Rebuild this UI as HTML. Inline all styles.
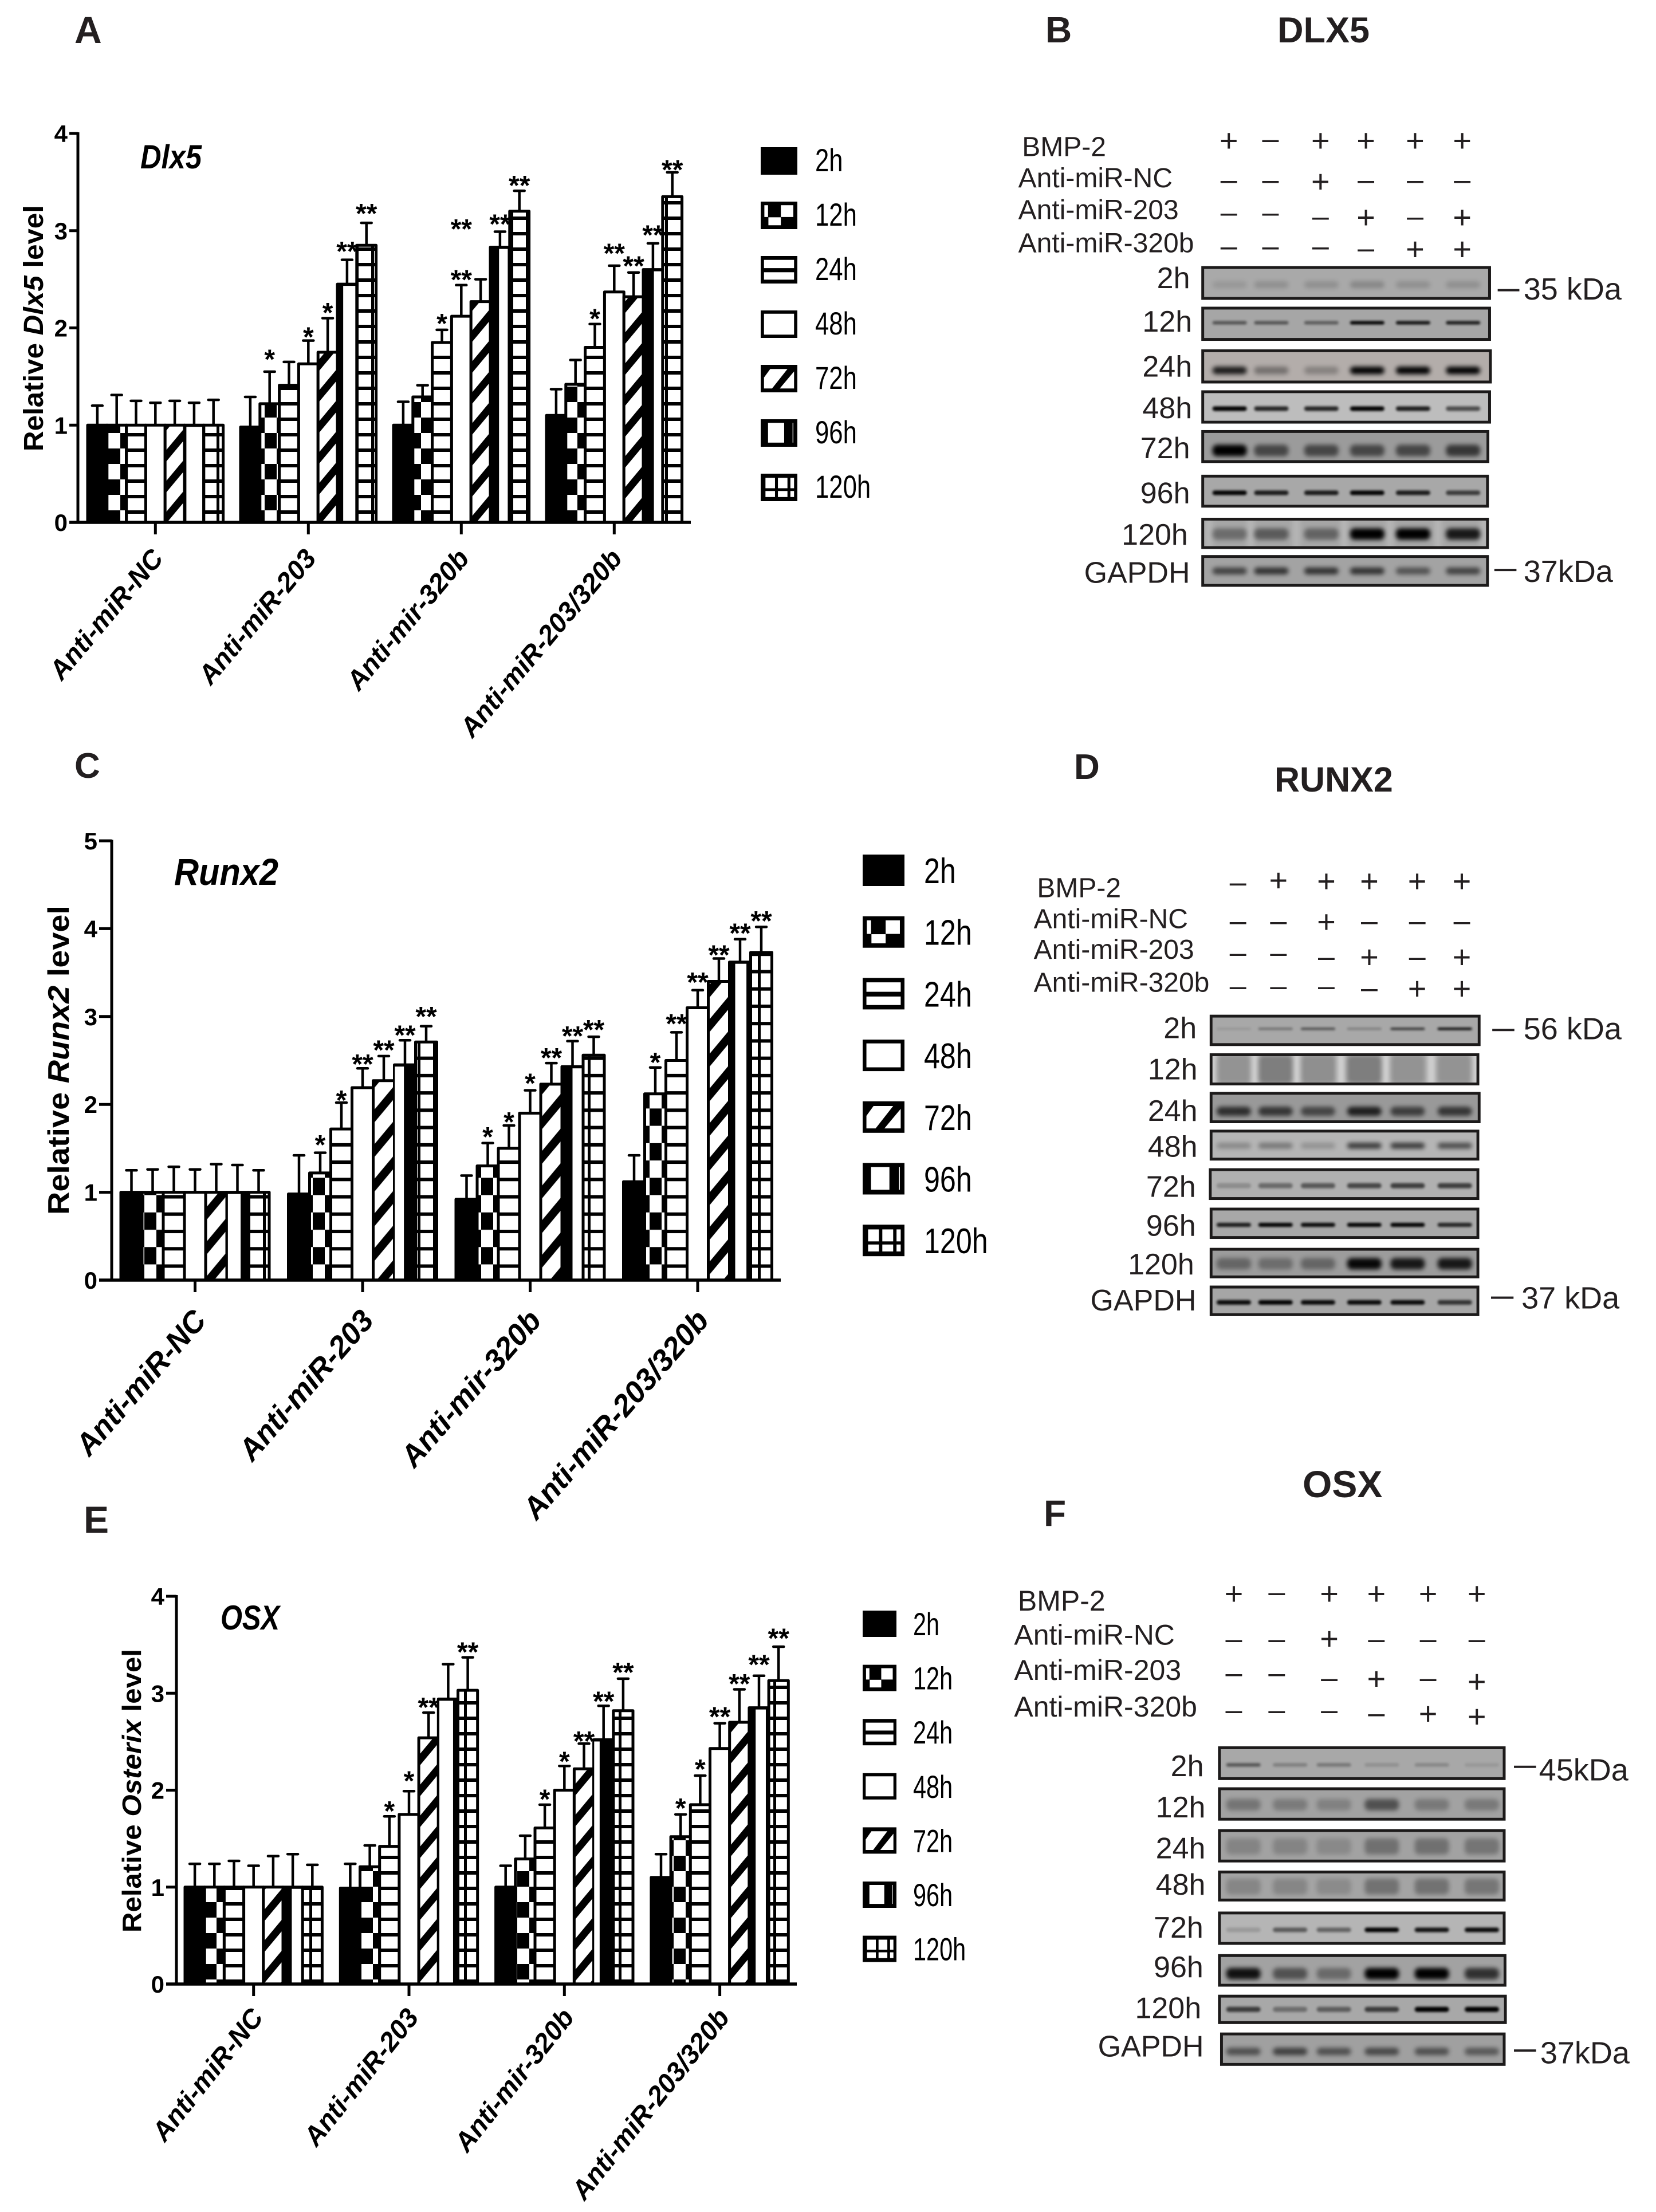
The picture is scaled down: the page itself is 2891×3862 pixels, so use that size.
<!DOCTYPE html>
<html lang="en">
<head>
<meta charset="utf-8">
<title>DLX5, RUNX2 and OSX expression</title>
<style>
html,body{margin:0;padding:0;background:#fff;}
svg{display:block;}
text{font-family:"Liberation Sans",Arial,sans-serif;}
.panel-letter{font-weight:bold;fill:#231f20;}
.blot-title{font-weight:bold;fill:#231f20;}
.plot-title{font-weight:bold;font-style:italic;fill:#000;}
</style>
</head>
<body>
<svg id="figure" xmlns="http://www.w3.org/2000/svg" width="2891" height="3862" viewBox="0 0 2891 3862">
<rect width="2891" height="3862" fill="#fff"/>
<defs id="defs">
<filter id="blur" x="-30%" y="-300%" width="160%" height="700%"><feGaussianBlur stdDeviation="4"/></filter>
<filter id="sharpblur" x="-30%" y="-300%" width="160%" height="700%"><feGaussianBlur stdDeviation="2"/></filter>
<filter id="softblur" x="-100%" y="-30%" width="300%" height="160%"><feGaussianBlur stdDeviation="5"/></filter>
</defs>
<text class="panel-letter" x="130" y="75" font-size="66">A</text>
<text class="panel-letter" x="1825" y="74" font-size="64">B</text>
<text class="panel-letter" x="130" y="1358" font-size="62">C</text>
<text class="panel-letter" x="1875" y="1360" font-size="62">D</text>
<text class="panel-letter" x="146" y="2676" font-size="66">E</text>
<text class="panel-letter" x="1822" y="2664" font-size="64">F</text>
<text class="blot-title" x="2230" y="74" font-size="63">DLX5</text>
<text class="blot-title" x="2225" y="1382" font-size="61">RUNX2</text>
<text class="blot-title" x="2274" y="2614" font-size="66">OSX</text>
<text class="plot-title" x="245" y="294" font-size="58" textLength="107" lengthAdjust="spacingAndGlyphs">Dlx5</text>
<text class="plot-title" x="304" y="1545" font-size="66" textLength="182" lengthAdjust="spacingAndGlyphs">Runx2</text>
<text class="plot-title" x="385" y="2845" font-size="60" textLength="103" lengthAdjust="spacingAndGlyphs">OSX</text>
</svg>
<script>
// ---------- shared chart data ----------
const categories = ['Anti-miR-NC', 'Anti-miR-203', 'Anti-mir-320b', 'Anti-miR-203/320b'];
const timeLabels = ['2h', '12h', '24h', '48h', '72h', '96h', '120h'];

// ---------- Dlx5 ----------
const dlx5Ticks = [0, 1, 2, 3, 4];
const dlx5Means = [
  [1, 1, 1, 1, 1, 1, 1],
  [0.98, 1.22, 1.41, 1.63, 1.75, 2.45, 2.85],
  [1, 1.29, 1.85, 2.12, 2.27, 2.83, 3.2],
  [1.1, 1.42, 1.8, 2.37, 2.32, 2.6, 3.35]
];
const dlx5ErrTops = [
  [1.2, 1.31, 1.25, 1.23, 1.25, 1.23, 1.26],
  [1.29, 1.55, 1.65, 1.87, 2.1, 2.7, 3.08],
  [1.24, 1.41, 1.98, 2.44, 2.5, 2.99, 3.41],
  [1.37, 1.67, 2.04, 2.64, 2.57, 2.87, 3.6]
];
const dlx5Stars = [
  [1, 1, '*', 1.74], [1, 3, '*', 1.97], [1, 4, '*', 2.22], [1, 5, '**', 2.85], [1, 6, '**', 3.24],
  [2, 2, '*', 2.11], [2, 3, '**', 2.56], [2, 3, '**', 3.08], [2, 5, '**', 3.13], [2, 6, '**', 3.53],
  [3, 2, '*', 2.16], [3, 3, '**', 2.83], [3, 4, '**', 2.7], [3, 5, '**', 3.02], [3, 6, '**', 3.69]
];

// ---------- Runx2 ----------
const runx2Ticks = [0, 1, 2, 3, 4, 5];
const runx2Means = [
  [1, 1, 1, 1, 1, 1, 1],
  [0.98, 1.22, 1.72, 2.19, 2.27, 2.45, 2.71],
  [0.92, 1.3, 1.5, 1.9, 2.23, 2.43, 2.56],
  [1.12, 2.12, 2.5, 3.1, 3.4, 3.62, 3.73]
];
const runx2ErrTops = [
  [1.25, 1.26, 1.29, 1.26, 1.32, 1.31, 1.25],
  [1.42, 1.45, 2.02, 2.41, 2.55, 2.73, 2.89],
  [1.19, 1.56, 1.76, 2.16, 2.47, 2.72, 2.77],
  [1.42, 2.42, 2.82, 3.3, 3.66, 3.88, 4.02]
];
const runx2Stars = [
  [1, 1, '*', 1.61], [1, 2, '*', 2.12], [1, 3, '**', 2.53], [1, 4, '**', 2.69], [1, 5, '**', 2.86], [1, 6, '**', 3.07],
  [2, 1, '*', 1.7], [2, 2, '*', 1.87], [2, 3, '*', 2.31], [2, 4, '**', 2.6], [2, 5, '**', 2.85], [2, 6, '**', 2.92],
  [3, 1, '*', 2.55], [3, 2, '**', 2.99], [3, 3, '**', 3.46], [3, 4, '**', 3.77], [3, 5, '**', 4.02], [3, 6, '**', 4.16]
];

// ---------- Osterix ----------
const osxTicks = [0, 1, 2, 3, 4];
const osxMeans = [
  [1, 1, 1, 1, 1, 1, 1],
  [0.99, 1.21, 1.42, 1.75, 2.54, 2.94, 3.03],
  [1, 1.29, 1.61, 2, 2.22, 2.52, 2.82],
  [1.1, 1.52, 1.85, 2.43, 2.7, 2.85, 3.13]
];
const osxErrTops = [
  [1.24, 1.24, 1.27, 1.22, 1.32, 1.34, 1.23],
  [1.24, 1.43, 1.73, 1.99, 2.8, 3.3, 3.37],
  [1.22, 1.53, 1.85, 2.25, 2.48, 2.87, 3.15],
  [1.34, 1.75, 2.15, 2.69, 3.04, 3.18, 3.48]
];
const osxStars = [
  [1, 2, '*', 1.85], [1, 3, '*', 2.16], [1, 4, '**', 2.92], [1, 6, '**', 3.49],
  [2, 2, '*', 1.97], [2, 3, '*', 2.36], [2, 4, '**', 2.57], [2, 5, '**', 2.98], [2, 6, '**', 3.28],
  [3, 1, '*', 1.88], [3, 2, '*', 2.28], [3, 3, '**', 2.82], [3, 4, '**', 3.16], [3, 5, '**', 3.36], [3, 6, '**', 3.63]
];

// ---------- western blot band intensities (lanes left to right) ----------
const rowNames = ['2h', '12h', '24h', '48h', '72h', '96h', '120h', 'GAPDH'];
const dlx5Bands = [
  [.1, .15, .15, .2, .15, .15], [.5, .5, .45, 1, .9, .85], [.85, .35, .25, 1, 1, 1], [1, .8, .8, 1, .85, .6],
  [1, .55, .55, .55, .55, .65], [1, .85, .85, 1, .85, .65], [.35, .45, .4, 1, 1, .85], [.6, .7, .7, .7, .5, .6]
];
const runx2Bands = [
  [.1, .35, .55, .25, .7, 1], [.12, .25, .15, .25, .12, .12], [.7, .65, .55, .8, .6, .65], [.25, .35, .2, .7, .7, .6],
  [.2, .4, .5, .6, .65, .65], [.85, 1, .95, 1, 1, .8], [.35, .3, .35, .95, .85, .85], [.95, 1, .95, .95, .95, .7]
];
const osxBands = [
  [.5, .25, .3, .15, .2, .1], [.28, .24, .2, .5, .25, .25], [.18, .18, .15, .3, .3, .28], [.18, .18, .15, .3, .3, .28],
  [.15, .5, .45, 1, .9, .95], [.9, .5, .35, 1, 1, .7], [.65, .35, .45, .65, 1, 1], [.5, .6, .5, .55, .5, .45]
];
const treatmentNames = ['BMP-2', 'Anti-miR-NC', 'Anti-miR-203', 'Anti-miR-320b'];
const dlx5Signs = ['+-++++', '--+---', '---+-+', '----++'];
const runx2Signs = ['-+++++', '--+---', '---+-+', '----++'];
const osxSigns = ['+-++++', '--+---', '---+-+', '----++'];

// ---------- helpers ----------
const NS = 'http://www.w3.org/2000/svg';
const root = document.getElementById('figure');
const defs = document.getElementById('defs');
function mk(tag, attrs, parent, txt) {
  const n = document.createElementNS(NS, tag);
  for (const k in attrs) n.setAttribute(k, attrs[k]);
  if (txt !== undefined) n.textContent = txt;
  (parent || root).appendChild(n);
  return n;
}

function definePatterns(pre, s) {
  const c = 21, r = 27 * s, l = 6;
  const p12 = mk('pattern', {id: pre + 'p12', patternUnits: 'userSpaceOnUse', width: 2 * c, height: 2 * r}, defs);
  mk('rect', {width: 2 * c, height: 2 * r, fill: '#fff'}, p12);
  mk('rect', {width: c, height: r, fill: '#000'}, p12);
  mk('rect', {x: c, y: r, width: c, height: r, fill: '#000'}, p12);
  const p24 = mk('pattern', {id: pre + 'p24', patternUnits: 'userSpaceOnUse', width: 10, height: r}, defs);
  mk('rect', {width: 10, height: r, fill: '#fff'}, p24);
  mk('rect', {width: 10, height: l, fill: '#000'}, p24);
  const w = 45 * s, h = 54 * s, t = 20 * s;
  const p72 = mk('pattern', {id: pre + 'p72', patternUnits: 'userSpaceOnUse', width: w, height: h}, defs);
  mk('rect', {width: w, height: h, fill: '#fff'}, p72);
  mk('polygon', {points: `0,${h} ${w},0 ${w},${t} 0,${h + t}`, fill: '#000'}, p72);
  mk('polygon', {points: `0,0 ${w},${-h} ${w},${t - h} 0,${t}`, fill: '#000'}, p72);
  const p120 = mk('pattern', {id: pre + 'p120', patternUnits: 'userSpaceOnUse', width: 27, height: r}, defs);
  mk('rect', {width: 27, height: r, fill: '#fff'}, p120);
  mk('rect', {width: 27, height: l, fill: '#000'}, p120);
  mk('rect', {width: 5, height: r, fill: '#000'}, p120);
}

const swatchCells = [
  [],
  [[.1, .13, .1, .43], [.21, .57, .34, .29], [.55, .13, .34, .43]],
  [[.09, .14, .82, .3], [.09, .59, .82, .27]],
  [[.09, .12, .82, .76]],
  [],
  [[.2, .13, .44, .72], [.87, .13, .02, .72]],
  [[.13, .15, .26, .38], [.47, .15, .26, .38], [.81, .15, .1, .38], [.13, .63, .26, .22], [.47, .63, .26, .22], [.81, .63, .1, .22]]
];

function drawChart(cfg, means, errTops, stars, ticks) {
  const pre = cfg.key + '-';
  definePatterns(pre, cfg.s);
  const g = mk('g', {});
  
  
  const maxTick = Math.max(...ticks);
  const yScale = v => cfg.y0 - v * (cfg.y0 - cfg.yTop) / maxTick;
  const xScale = (gi, bi) => cfg.x0 + gi * cfg.spacing + bi * cfg.barW;
  const fills = ['#000', `url(#${pre}p12)`, `url(#${pre}p24)`, '#fff', `url(#${pre}p72)`, '#000', `url(#${pre}p120)`];

  means.forEach((vals, gi) => {
    vals.forEach((v, bi) => {
      const x = xScale(gi, bi), cx = x + cfg.barW / 2, top = yScale(v);
      const stem = mk('line', {x1: cx, x2: cx, y1: top, y2: yScale(errTops[gi][bi]), stroke: '#000', 'stroke-width': 4.5}, g);
      
      
      const cap = mk('line', {x1: cx - 9, x2: cx + 9, y1: yScale(errTops[gi][bi]), y2: yScale(errTops[gi][bi]), stroke: '#000', 'stroke-width': 4.5, 'stroke-linecap': 'round'}, g);
      
      
    });
  });
  means.forEach((vals, gi) => {
    vals.forEach((v, bi) => {
      const x = xScale(gi, bi), top = yScale(v);
      const bar = mk('rect', {x: x, y: top, width: cfg.barW, height: cfg.y0 - top, fill: fills[bi], stroke: '#000', 'stroke-width': 5, 'stroke-linejoin': 'round'}, g);
      
      
      if (bi === 5) {
        const gap = cfg.gaps96[gi];
        const white = mk('rect', {x: x + gap[0] * cfg.barW, y: top + 3, width: (gap[1] - gap[0]) * cfg.barW, height: cfg.y0 - top - 3, fill: '#fff'}, g);
        
        
      }
    });
  });

  stars.forEach(st => {
    const t = mk('text', {x: xScale(st[0], st[1]) + cfg.barW / 2, y: yScale(st[3]) + 27, 'text-anchor': 'middle', 'font-size': 48, 'font-weight': 'bold', fill: '#000'}, g, st[2]);
    
    
  });

  const yAxis = mk('line', {x1: cfg.axisX, x2: cfg.axisX, y1: yScale(maxTick) - 2, y2: cfg.y0 + 2, stroke: '#000', 'stroke-width': 5}, g);
  
  
  const xAxis = mk('line', {x1: cfg.axisX - cfg.tickY, x2: cfg.axisEnd, y1: cfg.y0, y2: cfg.y0, stroke: '#000', 'stroke-width': 5.5}, g);
  
  

  ticks.forEach(tv => {
    const y = yScale(tv);
    const tk = mk('line', {x1: cfg.axisX - cfg.tickY, x2: cfg.axisX, y1: y, y2: y, stroke: '#000', 'stroke-width': 5}, g);
    
    
    const lab = mk('text', {x: cfg.axisX - cfg.tickY - 3, y: y + 15, 'text-anchor': 'end', 'font-size': 42, 'font-weight': 'bold', fill: '#000'}, g, String(tv));
    
    
  });

  categories.forEach((name, gi) => {
    const tx = xScale(gi, 3.5);
    const tk = mk('line', {x1: tx, x2: tx, y1: cfg.y0, y2: cfg.y0 + 21, stroke: '#000', 'stroke-width': 5}, g);
    
    
    const ax = tx + cfg.labDx, ay = cfg.y0 + cfg.labDy;
    const lab = mk('text', {x: ax, y: ay, 'text-anchor': 'end', 'font-size': cfg.labSize, 'font-weight': 'bold', 'font-style': 'italic', fill: '#000', transform: `rotate(${-cfg.labAngle} ${ax} ${ay})`}, g, name);
    
    
  });

  const yt = mk('text', {x: 0, y: 0, 'font-size': cfg.ytSize, 'font-weight': 'bold', fill: '#000', textLength: cfg.ytLen, lengthAdjust: 'spacingAndGlyphs', transform: `translate(${cfg.ytX} ${cfg.ytBottom}) rotate(-90)`}, g);
  
  
  mk('tspan', {}, yt, 'Relative ');
  mk('tspan', {'font-style': 'italic'}, yt, cfg.gene);
  mk('tspan', {}, yt, ' level');

  timeLabels.forEach((name, i) => {
    const y = cfg.legY + i * cfg.legStep;
    const entry = mk('g', {}, g);
    
    
    mk('rect', {x: cfg.legX, y: y, width: cfg.legW, height: cfg.legH, fill: '#000'}, entry);
    swatchCells[i].forEach(c => {
      mk('rect', {x: cfg.legX + c[0] * cfg.legW, y: y + c[1] * cfg.legH, width: c[2] * cfg.legW, height: c[3] * cfg.legH, fill: '#fff'}, entry);
    });
    if (i === 4) {
      const X = f => cfg.legX + f * cfg.legW, Y = f => y + f * cfg.legH;
      mk('polygon', {points: `${X(.09)},${Y(.46)} ${X(.26)},${Y(.15)} ${X(.73)},${Y(.15)} ${X(.31)},${Y(.86)} ${X(.09)},${Y(.86)}`, fill: '#fff'}, entry);
      mk('polygon', {points: `${X(.52)},${Y(.86)} ${X(.91)},${Y(.24)} ${X(.91)},${Y(.86)}`, fill: '#fff'}, entry);
    }
    const lx = cfg.legTextX, ly = y + cfg.legBase;
    const t = mk('text', {'font-size': cfg.legSize, fill: '#000', transform: `translate(${lx} ${ly}) scale(${cfg.legScale} 1)`}, entry, name);
    
    
  });
}

drawChart({key: 'dlx5', gene: 'Dlx5', s: 1, x0: 153, spacing: 267, barW: 33.8, y0: 912, yTop: 233, axisX: 136, axisEnd: 1206, tickY: 15,
  labDx: 16, labDy: 64, labSize: 47, labAngle: 50, ytSize: 48, ytLen: 430, ytX: 75, ytBottom: 788,
  legX: 1328, legY: 257, legStep: 95, legW: 64, legH: 48, legTextX: 1423, legBase: 42, legSize: 56, legScale: .78,
  gaps96: [[.1, .92], [.3, .95], [.45, .9], [.55, .98]]},
  dlx5Means, dlx5ErrTops, dlx5Stars, dlx5Ticks);

drawChart({key: 'runx2', gene: 'Runx2', s: 1.12, x0: 211, spacing: 292.5, barW: 37, y0: 2235, yTop: 1468, axisX: 195, axisEnd: 1363, tickY: 22,
  labDx: 22, labDy: 72, labSize: 53, labAngle: 49, ytSize: 52, ytLen: 540, ytX: 120, ytBottom: 2121,
  legX: 1506, legY: 1492, legStep: 107.7, legW: 73, legH: 55, legTextX: 1613, legBase: 50, legSize: 62, legScale: .81,
  gaps96: [[.05, .65], [.02, .45], [.5, .95], [.27, .8]]},
  runx2Means, runx2ErrTops, runx2Stars, runx2Ticks);

drawChart({key: 'osx', gene: 'Osterix', s: 1, x0: 323, spacing: 271.3, barW: 34.2, y0: 3464, yTop: 2787, axisX: 308, axisEnd: 1391, tickY: 18,
  labDx: 19, labDy: 59, labSize: 47, labAngle: 51.5, ytSize: 46, ytLen: 495, ytX: 246, ytBottom: 3374,
  legX: 1506, legY: 2812, legStep: 94.6, legW: 59, legH: 46, legTextX: 1594, legBase: 43, legSize: 56, legScale: .74,
  gaps96: [[.45, .98], [.05, .75], [.02, .3], [.33, .85]]},
  osxMeans, osxErrTops, osxStars, osxTicks);

// ---------- western blots ----------
function drawBlot(p, bands, signs) {
  const X = v => p.ox + v / 1.374, Y = v => p.oy + v / 1.425;
  const g = mk('g', {});
  
  

  treatmentNames.forEach((name, i) => {
    const t = mk('text', {x: X(p.treatX[i]), y: Y(p.treatBase[i]), 'font-size': p.treatSize, fill: '#231f20'}, g, name);
    
    
    signs[i].split('').forEach((ch, j) => {
      const cy = Y(p.signY[i][j]);
      const plus = ch === '+';
      const s = mk('text', {x: X(p.cols[j]), y: cy + (plus ? 19 : 14), 'text-anchor': 'middle', 'font-size': plus ? 56 : 52, fill: '#231f20'}, g, plus ? '+' : '\u2013');
      
      
    });
  });

  rowNames.forEach((name, i) => {
    const r = p.rows[i], rx = X(r[0]), ry = Y(r[2]), rw = X(r[1]) - rx, rh = Y(r[3]) - ry;
    const st = p.style[i];
    const lab = mk('text', {x: X(p.labRight[i]), y: Y(p.labBase[i]), 'text-anchor': 'end', 'font-size': p.labSize, fill: '#231f20'}, g, name);
    
    
    const inner = mk('svg', {x: rx, y: ry, width: rw, height: rh}, g);
    
    
    mk('rect', {width: rw, height: rh, fill: st.bg}, inner);
    if (st.gap) {
      for (let k = 0; k < 7; k++) {
        const mid = k === 0 ? p.lanes[0] - 50 : k === 6 ? p.lanes[5] + 50 : (p.lanes[k - 1] + p.lanes[k]) / 2;
        mk('rect', {x: X(mid) - rx - 6, y: -10, width: 12, height: rh + 20, fill: '#fff', opacity: st.gap, filter: 'url(#softblur)'}, inner);
      }
    }
    bands[i].forEach((d, j) => {
      const bh = st.h, cx = X(p.lanes[j]) - rx;
      const f = bh < 10 ? 'url(#sharpblur)' : 'url(#blur)';
      const b = mk('rect', {x: cx - 30, y: st.y * rh - bh / 2, width: 60, height: bh, rx: Math.min(bh / 2, 8), fill: '#000', opacity: d, filter: f}, inner);
      
      
    });
    mk('rect', {x: 2.5, y: 2.5, width: rw - 5, height: rh - 5, fill: 'none', stroke: '#1c1a1a', 'stroke-width': 5}, inner);
  });

  p.markers.forEach(m => {
    const dash = mk('line', {x1: X(m.d0), x2: X(m.d1), y1: Y(m.dy), y2: Y(m.dy), stroke: '#231f20', 'stroke-width': 4}, g);
    
    
    const t = mk('text', {x: X(m.x), y: Y(m.base), 'font-size': 54, fill: '#231f20'}, g, m.text);
    
    
  });
}

drawBlot({key: 'dlx5', ox: 1750, oy: 0, treatSize: 48, labSize: 52,
  treatX: [47, 38, 38, 38], treatBase: [388, 466, 545, 628],
  cols: [543, 643, 763, 872, 990, 1103],
  signY: [[350, 350, 350, 350, 350, 350], [452, 452, 452, 452, 452, 452], [533, 533, 543, 541, 543, 541], [617, 617, 617, 622, 620, 620]],
  rows: [[477, 1172, 662, 746], [477, 1172, 763, 848], [477, 1174, 869, 954], [477, 1172, 971, 1054], [477, 1168, 1070, 1152], [477, 1167, 1181, 1263], [477, 1167, 1288, 1366], [477, 1167, 1381, 1460]],
  lanes: [545, 645, 765, 875, 985, 1105],
  labRight: [450, 455, 455, 455, 450, 450, 445, 450], labBase: [717, 825, 937, 1040, 1140, 1252, 1355, 1450],
  style: [{bg: '#a9a9a9', h: 12, y: .55}, {bg: '#a6a6a6', h: 6, y: .47}, {bg: '#b3adaa', h: 13, y: .62}, {bg: '#bdbdbd', h: 8, y: .55},
          {bg: '#9b9b9b', h: 20, y: .62}, {bg: '#a8a8a8', h: 8, y: .55}, {bg: '#a6a6a6', h: 20, y: .52, gap: .2}, {bg: '#a3a3a3', h: 12, y: .5}],
  markers: [{d0: 1188, d1: 1240, dy: 722, x: 1250, base: 745, text: '35 kDa'}, {d0: 1180, d1: 1233, dy: 1418, x: 1250, base: 1448, text: '37kDa'}]},
  dlx5Bands, dlx5Signs);

drawBlot({key: 'runx2', ox: 1750, oy: 1300, treatSize: 48, labSize: 52,
  treatX: [83, 75, 75, 75], treatBase: [380, 457, 533, 615],
  cols: [565, 662, 777, 880, 995, 1102],
  signY: [[347, 338, 340, 340, 340, 340], [443, 443, 441, 443, 443, 443], [522, 522, 532, 529, 532, 529], [605, 605, 605, 610, 607, 607]],
  rows: [[497, 1147, 672, 750], [497, 1144, 768, 848], [497, 1147, 864, 942], [497, 1144, 958, 1035], [495, 1144, 1054, 1133], [497, 1144, 1152, 1230], [497, 1144, 1252, 1328], [497, 1144, 1346, 1422]],
  lanes: [555, 655, 757, 868, 972, 1085],
  labRight: [466, 468, 468, 468, 464, 464, 460, 465], labBase: [730, 833, 936, 1025, 1125, 1222, 1318, 1408],
  style: [{bg: '#a8a8a8', h: 4, y: .45}, {bg: '#a8a8a8', h: 48, y: .5, gap: .55}, {bg: '#999', h: 16, y: .62}, {bg: '#b5b5b5', h: 10, y: .52},
          {bg: '#b0b0b0', h: 9, y: .55}, {bg: '#a8a8a8', h: 7, y: .55}, {bg: '#9c9c9c', h: 20, y: .52}, {bg: '#a6a6a6', h: 8, y: .55}],
  markers: [{d0: 1175, d1: 1228, dy: 710, x: 1250, base: 733, text: '56 kDa'}, {d0: 1172, d1: 1226, dy: 1376, x: 1245, base: 1403, text: '37 kDa'}]},
  runx2Bands, runx2Signs);

drawBlot({key: 'osx', ox: 1750, oy: 2550, treatSize: 50, labSize: 52,
  treatX: [37, 28, 28, 28], treatBase: [373, 458, 546, 637],
  cols: [555, 658, 784, 897, 1021, 1138],
  signY: [[331, 331, 331, 331, 331, 331], [448, 448, 443, 448, 448, 448], [533, 533, 545, 543, 545, 550], [625, 625, 625, 633, 630, 637]],
  rows: [[517, 1207, 711, 795], [517, 1207, 813, 896], [517, 1207, 917, 1000], [517, 1207, 1020, 1097], [517, 1207, 1122, 1205], [517, 1209, 1228, 1309], [517, 1210, 1329, 1402], [522, 1207, 1423, 1506]],
  lanes: [578, 690, 795, 910, 1030, 1150],
  labRight: [483, 487, 487, 487, 482, 482, 477, 483], labBase: [785, 888, 990, 1080, 1187, 1285, 1387, 1483],
  style: [{bg: '#a8a8a8', h: 6, y: .55}, {bg: '#a2a2a2', h: 20, y: .52}, {bg: '#a2a2a2', h: 28, y: .52}, {bg: '#a4a4a4', h: 28, y: .52},
          {bg: '#b5b5b5', h: 8, y: .55}, {bg: '#a2a2a2', h: 20, y: .6}, {bg: '#a8a8a8', h: 9, y: .5}, {bg: '#a0a0a0', h: 13, y: .57}],
  markers: [{d0: 1227, d1: 1280, dy: 762, x: 1287, base: 796, text: '45kDa'}, {d0: 1227, d1: 1280, dy: 1468, x: 1290, base: 1500, text: '37kDa'}]},
  osxBands, osxSigns);
</script>
</body>
</html>
